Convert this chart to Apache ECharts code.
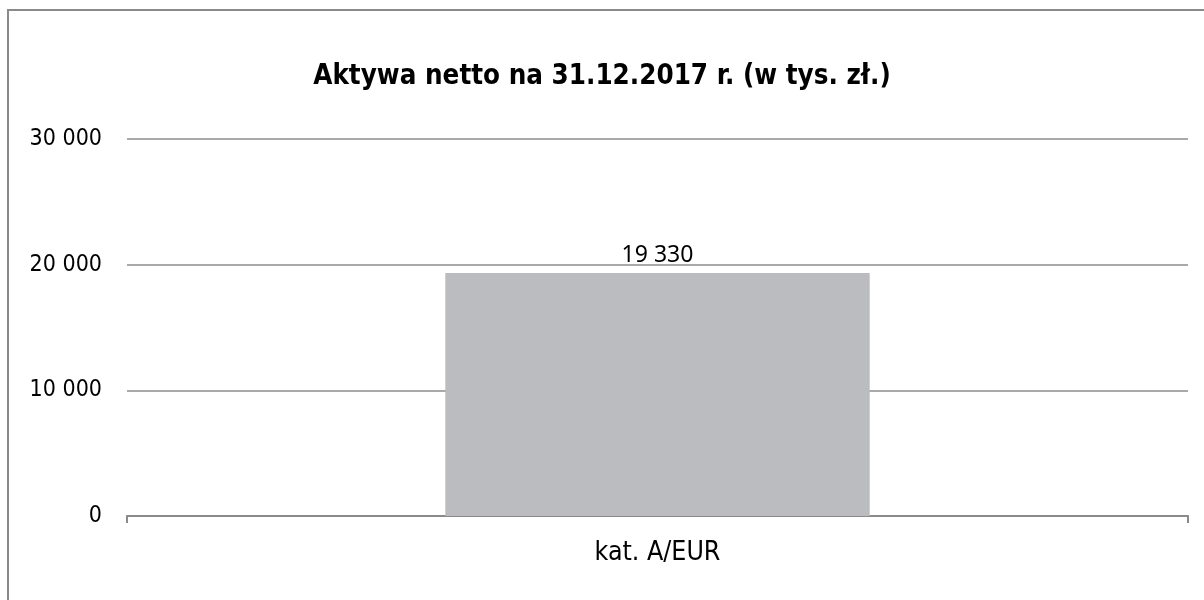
<!DOCTYPE html>
<html lang="pl">
<head>
    <meta charset="UTF-8">
    <title>Aktywa netto</title>
    <script src="https://cdn.jsdelivr.net/npm/echarts@6/dist/echarts.min.js"></script>
    <style>
        html, body { margin: 0; padding: 0; background: #fff; }
        #chart { width: 1204px; height: 600px; }
    </style>
</head>
<body>
<div id="chart"></div>
<script>
    var categories = ['kat. A/EUR'];
    var netAssets = [19330];
    var yTicks = [0, 10000, 20000, 30000];

    // 19330 -> "19 330"
    function fmt(v) {
        return String(v).replace(/\B(?=(\d{3})+(?!\d))/g, ' ');
    }

    var myChart = echarts.init(document.getElementById('chart'));

    var option = {
        animation: false,
        backgroundColor: '#fff',
        title: {
            text: 'Aktywa netto na 31.12.2017 r. (w tys. zł.)',
            left: 'center',
            top: 58,
            textStyle: {
                fontFamily: 'DejaVu Sans Condensed, DejaVu Sans',
                fontWeight: 'bold',
                fontSize: 27.5,
                color: '#000'
            }
        },
        graphic: [{
            type: 'rect',
            shape: { x: 8, y: 10, width: 1300, height: 700 },
            style: { fill: 'none', stroke: '#8a8a8a', lineWidth: 2 },
            silent: true
        }],
        grid: {
            left: 127,
            right: 16,
            top: 139,
            bottom: 84
        },
        xAxis: {
            type: 'category',
            data: categories,
            axisLine: { lineStyle: { color: '#8a8a8a', width: 2 } },
            axisTick: { show: true, length: 7, lineStyle: { color: '#8a8a8a', width: 2 } },
            axisLabel: {
                margin: 24,
                color: '#000',
                fontFamily: 'DejaVu Sans Condensed, DejaVu Sans',
                fontSize: 26.5
            }
        },
        yAxis: {
            type: 'value',
            min: yTicks[0],
            max: yTicks[yTicks.length - 1],
            interval: yTicks[1] - yTicks[0],
            axisLine: { show: false },
            axisTick: { show: false },
            splitLine: { lineStyle: { color: '#8c8c8c', width: 1.5 } },
            axisLabel: {
                margin: 25,
                color: '#000',
                fontFamily: 'DejaVu Sans Condensed, DejaVu Sans',
                fontSize: 23,
                formatter: function (v) { return fmt(v); }
            }
        },
        series: [{
            type: 'bar',
            data: netAssets,
            barWidth: '40%',
            itemStyle: { color: '#bbbcc0' },
            label: {
                show: true,
                position: 'top',
                distance: 6,
                color: '#000',
                fontFamily: 'Noto Sans',
                fontSize: 23,
                formatter: function (p) { return fmt(p.value); }
            }
        }]
    };

    myChart.setOption(option);
</script>
</body>
</html>
